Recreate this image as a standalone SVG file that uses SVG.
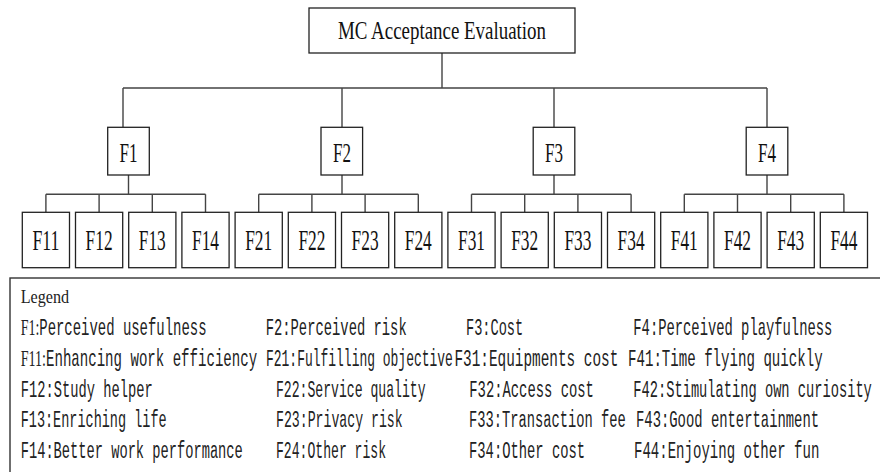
<svg xmlns="http://www.w3.org/2000/svg" width="880" height="472" viewBox="0 0 880 472">
<style>
.box{fill:#fff;stroke:#222;stroke-width:1.3}
.lbl{font-family:"Liberation Serif",serif;fill:#111;text-anchor:middle}
.top{font-size:25px}
.mid{font-size:27px}
.leaf{font-size:29px}
.con{stroke:#444;stroke-width:1.4;fill:none}
.lg{font-family:"Liberation Mono",monospace;font-size:24px;fill:#222}
.ser{font-family:"Liberation Serif",serif}
</style>
<rect width="880" height="472" fill="#fff"/>
<g id="connectors" class="con">
<path d="M442 53V88M123 88H767M123 88V127.3M342 88V127.3M554 88V127.3M767 88V127.3"/>
<path d="M128.5 175V194.3M45.9 194.3H205.5M45.9 194.3V212.3M99.1 194.3V212.3M152.3 194.3V212.3M205.5 194.3V212.3"/>
<path d="M342 175V194.3M258.7 194.3H418.3M258.7 194.3V212.3M311.9 194.3V212.3M365.1 194.3V212.3M418.3 194.3V212.3"/>
<path d="M554 175V194.3M471.5 194.3H631.1M471.5 194.3V212.3M524.7 194.3V212.3M577.9 194.3V212.3M631.1 194.3V212.3"/>
<path d="M767 175V194.3M684.3 194.3H843.9M684.3 194.3V212.3M737.5 194.3V212.3M790.7 194.3V212.3M843.9 194.3V212.3"/>
</g>
<g id="root"><rect class="box" x="309" y="8" width="266" height="45"/><text class="lbl top" x="442" y="38.5" textLength="208" lengthAdjust="spacingAndGlyphs">MC Acceptance Evaluation</text></g>
<g id="F1"><rect class="box" x="107.7" y="127.3" width="41.6" height="47.7"/><text class="lbl mid" x="128.5" y="161.5" textLength="18" lengthAdjust="spacingAndGlyphs">F1</text></g>
<g id="F2"><rect class="box" x="321" y="127.3" width="41.6" height="47.7"/><text class="lbl mid" x="342" y="161.5" textLength="18" lengthAdjust="spacingAndGlyphs">F2</text></g>
<g id="F3"><rect class="box" x="533.2" y="127.3" width="41.6" height="47.7"/><text class="lbl mid" x="554" y="161.5" textLength="18" lengthAdjust="spacingAndGlyphs">F3</text></g>
<g id="F4"><rect class="box" x="746.2" y="127.3" width="41.6" height="47.7"/><text class="lbl mid" x="767" y="161.5" textLength="18" lengthAdjust="spacingAndGlyphs">F4</text></g>
<g id="F11"><rect class="box" x="22.3" y="212.3" width="47.2" height="55.4"/><text class="lbl leaf" x="45.9" y="250" textLength="27" lengthAdjust="spacingAndGlyphs">F11</text></g>
<g id="F12"><rect class="box" x="75.5" y="212.3" width="47.2" height="55.4"/><text class="lbl leaf" x="99.1" y="250" textLength="27" lengthAdjust="spacingAndGlyphs">F12</text></g>
<g id="F13"><rect class="box" x="128.7" y="212.3" width="47.2" height="55.4"/><text class="lbl leaf" x="152.3" y="250" textLength="27" lengthAdjust="spacingAndGlyphs">F13</text></g>
<g id="F14"><rect class="box" x="181.9" y="212.3" width="47.2" height="55.4"/><text class="lbl leaf" x="205.5" y="250" textLength="27" lengthAdjust="spacingAndGlyphs">F14</text></g>
<g id="F21"><rect class="box" x="235.1" y="212.3" width="47.2" height="55.4"/><text class="lbl leaf" x="258.7" y="250" textLength="27" lengthAdjust="spacingAndGlyphs">F21</text></g>
<g id="F22"><rect class="box" x="288.3" y="212.3" width="47.2" height="55.4"/><text class="lbl leaf" x="311.9" y="250" textLength="27" lengthAdjust="spacingAndGlyphs">F22</text></g>
<g id="F23"><rect class="box" x="341.5" y="212.3" width="47.2" height="55.4"/><text class="lbl leaf" x="365.1" y="250" textLength="27" lengthAdjust="spacingAndGlyphs">F23</text></g>
<g id="F24"><rect class="box" x="394.7" y="212.3" width="47.2" height="55.4"/><text class="lbl leaf" x="418.3" y="250" textLength="27" lengthAdjust="spacingAndGlyphs">F24</text></g>
<g id="F31"><rect class="box" x="447.9" y="212.3" width="47.2" height="55.4"/><text class="lbl leaf" x="471.5" y="250" textLength="27" lengthAdjust="spacingAndGlyphs">F31</text></g>
<g id="F32"><rect class="box" x="501.1" y="212.3" width="47.2" height="55.4"/><text class="lbl leaf" x="524.7" y="250" textLength="27" lengthAdjust="spacingAndGlyphs">F32</text></g>
<g id="F33"><rect class="box" x="554.3" y="212.3" width="47.2" height="55.4"/><text class="lbl leaf" x="577.9" y="250" textLength="27" lengthAdjust="spacingAndGlyphs">F33</text></g>
<g id="F34"><rect class="box" x="607.5" y="212.3" width="47.2" height="55.4"/><text class="lbl leaf" x="631.1" y="250" textLength="27" lengthAdjust="spacingAndGlyphs">F34</text></g>
<g id="F41"><rect class="box" x="660.7" y="212.3" width="47.2" height="55.4"/><text class="lbl leaf" x="684.3" y="250" textLength="27" lengthAdjust="spacingAndGlyphs">F41</text></g>
<g id="F42"><rect class="box" x="713.9" y="212.3" width="47.2" height="55.4"/><text class="lbl leaf" x="737.5" y="250" textLength="27" lengthAdjust="spacingAndGlyphs">F42</text></g>
<g id="F43"><rect class="box" x="767.1" y="212.3" width="47.2" height="55.4"/><text class="lbl leaf" x="790.7" y="250" textLength="27" lengthAdjust="spacingAndGlyphs">F43</text></g>
<g id="F44"><rect class="box" x="820.3" y="212.3" width="47.2" height="55.4"/><text class="lbl leaf" x="843.9" y="250" textLength="27" lengthAdjust="spacingAndGlyphs">F44</text></g>
<g id="legend">
<rect x="10" y="278" width="880" height="210" fill="none" stroke="#333" stroke-width="1.4"/>
<text class="ser" font-size="19" fill="#222" transform="translate(20.7 303) scale(0.85 1)">Legend</text>
<text class="lg" transform="translate(20.7 335) scale(0.581 1)"><tspan class="ser">F1:</tspan>Perceived usefulness</text>
<text class="lg" transform="translate(265.7 335) scale(0.576 1)">F2:Perceived risk</text>
<text class="lg" transform="translate(466 335) scale(0.568 1)">F3:Cost</text>
<text class="lg" transform="translate(633.3 335) scale(0.576 1)">F4:Perceived playfulness</text>
<text class="lg" transform="translate(20.7 366) scale(0.587 1)"><tspan class="ser">F11:</tspan>Enhancing work efficiency</text>
<text class="lg" transform="translate(266 366) scale(0.541 1)">F21:Fulfilling objective</text>
<text class="lg" transform="translate(454.5 366) scale(0.599 1)">F31:Equipments cost</text>
<text class="lg" transform="translate(628 366) scale(0.588 1)">F41:Time flying quickly</text>
<text class="lg" transform="translate(20.7 396.5) scale(0.573 1)">F12:Study helper</text>
<text class="lg" transform="translate(276 396.5) scale(0.547 1)">F22:Service quality</text>
<text class="lg" transform="translate(469.3 396.5) scale(0.577 1)">F32:Access cost</text>
<text class="lg" transform="translate(633.3 396.5) scale(0.571 1)">F42:Stimulating own curiosity</text>
<text class="lg" transform="translate(20.7 427) scale(0.563 1)">F13:Enriching life</text>
<text class="lg" transform="translate(276 427) scale(0.55 1)">F23:Privacy risk</text>
<text class="lg" transform="translate(469 427) scale(0.573 1)">F33:Transaction fee</text>
<text class="lg" transform="translate(636 427) scale(0.578 1)">F43:Good entertainment</text>
<text class="lg" transform="translate(20.7 458) scale(0.571 1)">F14:Better work performance</text>
<text class="lg" transform="translate(276 458) scale(0.546 1)">F24:Other risk</text>
<text class="lg" transform="translate(469 458) scale(0.576 1)">F34:Other cost</text>
<text class="lg" transform="translate(634 458) scale(0.585 1)">F44:Enjoying other fun</text>
</g>
</svg>
